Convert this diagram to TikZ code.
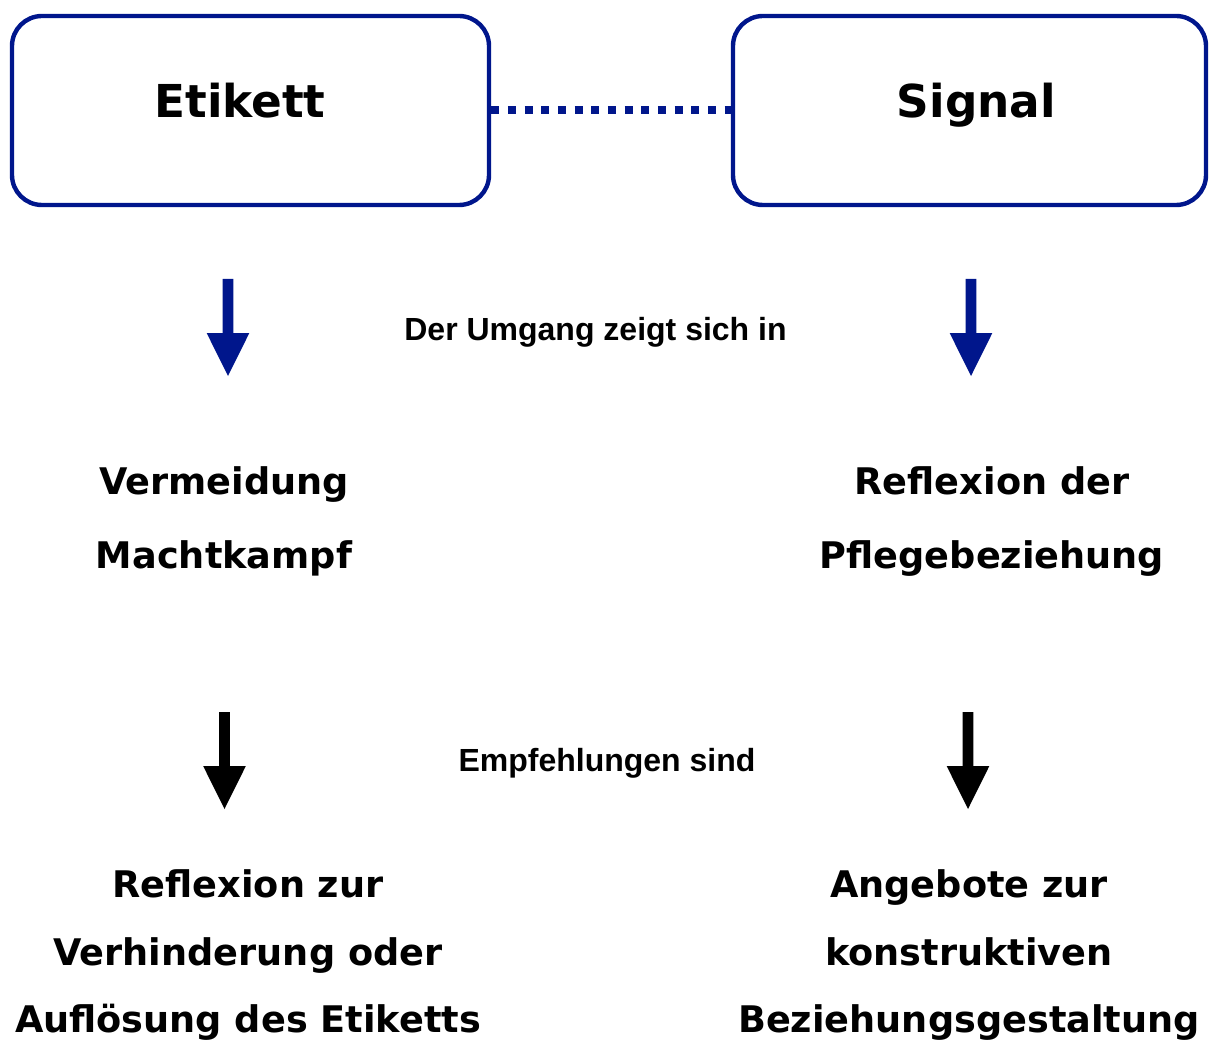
\documentclass[tikz,border=0pt]{standalone}
\usepackage{fontspec}
\setmainfont{DejaVu Sans}
\newfontfamily\arialfont{Liberation Sans}
\usetikzlibrary{positioning}
\definecolor{boxblue}{RGB}{0,22,140}

\begin{document}
\begin{tikzpicture}[x=0.75pt,y=-0.75pt,
  box/.style={draw=boxblue,line width=3.3pt,rounded corners=22.5pt,minimum height=141.75pt,inner sep=0pt},
  headtext/.style={anchor=base,font=\fontsize{34}{40}\selectfont\bfseries},
  bigtext/.style={anchor=base,font=\fontsize{27.5}{33}\selectfont\bfseries},
  smalltext/.style={anchor=base,font=\arialfont\fontsize{24}{29}\selectfont\bfseries},
  dotline/.style={draw=boxblue,line width=6pt,dash pattern=on 6pt off 6.5pt}]

\useasboundingbox (0,0) rectangle (1210,1041);

% boxes
\node[box,minimum width=357.75pt] (etikett) at (250.5,110.5) {};
\node[box,minimum width=354.75pt] (signal) at (969.5,110.5) {};
\node[headtext] (etikettlabel) at (240,118) {Etikett};
\node[headtext] (signallabel) at (976.5,118) {Signal};

\draw[dotline] (etikett.east) -- (signal.west);

% block arrows
\foreach \x/\y/\col in {228/279/boxblue, 971/279/boxblue, 224.5/712/black, 968/712/black}
{
\fill[\col] ({\x-5.35},\y) -- ++(10.7,0) -- ++(0,54) -- ++(16,0) -- ({\x},{\y+97}) -- ({\x-21.35},{\y+54}) -- ++(16,0) -- cycle;
}

\node[smalltext] (umgang) at (595.5,340) {Der Umgang zeigt sich in};
\node[smalltext] (empf) at (607,771) {Empfehlungen sind};

% middle row
\foreach \txt [count=\i] in {Vermeidung,Machtkampf}
{
\node[bigtext] (ml\i) at (224,{421.5+73.3*\i}) {\txt};
}
\foreach \txt [count=\i] in {Reflexion der,Pflegebeziehung}
{
\node[bigtext] (mr\i) at (992,{421.5+73.3*\i}) {\txt};
}

% bottom row
\foreach \txt [count=\i] in {Reflexion zur,Verhinderung oder,Auflösung des Etiketts}
{
\node[bigtext] (bl\i) at (248,{830.2+67.5*\i}) {\txt};
}
\foreach \txt [count=\i] in {Angebote zur,konstruktiven,Beziehungsgestaltung}
{
\node[bigtext] (br\i) at (969,{830.2+67.5*\i}) {\txt};
}

\end{tikzpicture}
\end{document}
